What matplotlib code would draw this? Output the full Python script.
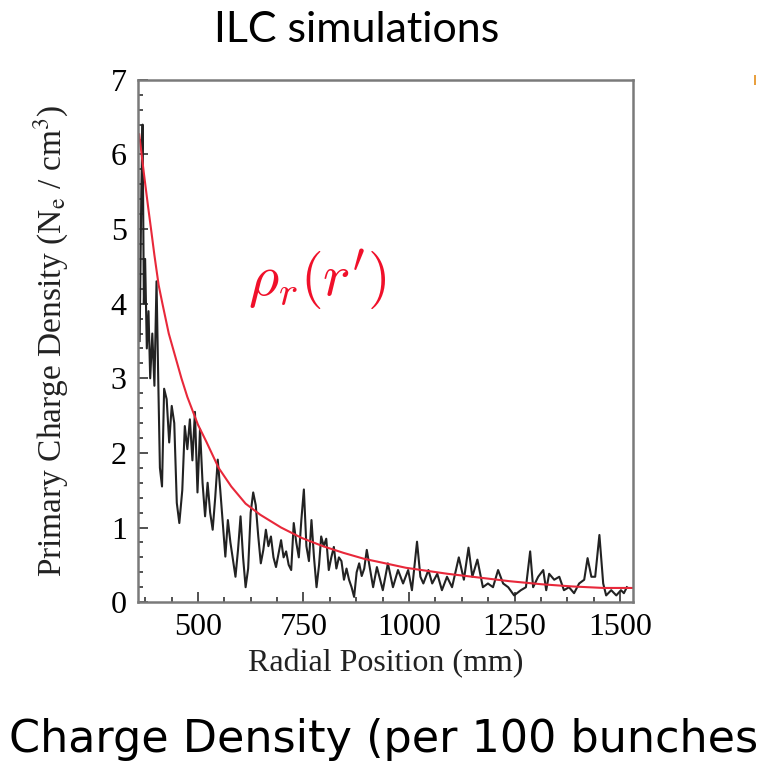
import matplotlib
matplotlib.use('Agg')
import matplotlib.pyplot as plt
from matplotlib.ticker import MultipleLocator
from matplotlib.patches import Rectangle

# black simulated density
r_sim = [362, 366, 369, 372, 375, 379, 383, 387, 392, 397, 402, 406, 410, 415,
         420, 426, 432, 438, 444, 450, 456, 463, 469, 475, 481, 487, 493,
         499, 505, 511, 517, 523, 529, 535, 541, 547, 553, 559, 565, 571,
         577, 583, 589, 595, 601, 607, 613, 619, 625, 631, 637, 643, 649,
         655, 661, 667, 673, 679, 685, 691, 697, 703, 709, 715, 721, 727,
         733, 739, 745, 751, 757, 763, 769, 775, 781, 787, 792, 798, 804,
         810, 816, 822, 828, 834, 840, 846, 852, 858, 864, 870, 876, 882,
         888, 894, 900, 907, 915, 924, 938, 950, 962, 974, 986, 998, 1007,
         1019, 1027, 1034, 1046, 1055, 1067, 1078, 1090, 1102, 1118, 1130,
         1141, 1150, 1162, 1175, 1187, 1199, 1211, 1223, 1235, 1249, 1265,
         1277, 1287, 1294, 1306, 1318, 1325, 1332, 1344, 1356, 1367, 1379,
         1391, 1403, 1415, 1423, 1432, 1441, 1451, 1460, 1467, 1479, 1491,
         1502, 1509, 1516]
rho_sim = [3.5, 5.5, 6.4, 4.0, 4.6, 3.4, 3.9, 3.0, 3.6, 2.9, 4.3, 3.0, 1.8, 1.55,
           2.86, 2.72, 2.14, 2.63, 2.4, 1.33, 1.06, 1.5, 2.36, 2.05, 2.45, 1.9, 2.55,
           1.47, 2.32, 1.6, 1.15, 1.6, 1.2, 0.97, 1.4, 1.91, 1.5, 1.06, 0.61, 1.1,
           0.8, 0.57, 0.34, 0.7, 1.15, 0.6, 0.2, 0.45, 1.2, 1.47, 1.3, 0.88, 0.52,
           0.7, 0.97, 0.75, 0.88, 0.6, 0.47, 0.65, 0.83, 0.6, 0.68, 0.5, 0.43, 1.06,
           0.8, 0.6, 1.1, 1.51, 0.75, 0.55, 1.1, 0.6, 0.2, 0.5, 0.88, 0.75, 0.85,
           0.43, 0.6, 0.74, 0.45, 0.6, 0.55, 0.3, 0.45, 0.3, 0.2, 0.07, 0.4, 0.52,
           0.35, 0.45, 0.7, 0.47, 0.2, 0.47, 0.16, 0.52, 0.2, 0.43, 0.25, 0.43, 0.16,
           0.81, 0.34, 0.25, 0.43, 0.25, 0.38, 0.16, 0.34, 0.2, 0.6, 0.3,
           0.73, 0.34, 0.57, 0.2, 0.25, 0.2, 0.43, 0.25, 0.2, 0.09, 0.16,
           0.2, 0.68, 0.2, 0.34, 0.43, 0.16, 0.38, 0.3, 0.34, 0.16, 0.2,
           0.12, 0.25, 0.3, 0.59, 0.34, 0.34, 0.9, 0.25, 0.09, 0.16, 0.09,
           0.16, 0.12, 0.2]

# red fitted curve rho_r(r')
r_fit = [361, 372, 382, 389, 397, 407, 416, 431, 446, 461, 475, 500, 520,
         549, 579, 613, 648, 697, 746, 796, 845, 894, 944, 993, 1042, 1091,
         1165, 1239, 1313, 1387, 1461, 1530]
rho_fit = [6.27, 5.75, 5.3, 5.0, 4.65, 4.25, 4.0, 3.6, 3.3, 3.0, 2.75, 2.38, 2.15,
           1.8, 1.55, 1.32, 1.17, 1.0, 0.86, 0.75, 0.66, 0.58, 0.52, 0.46, 0.42, 0.38,
           0.33, 0.28, 0.24, 0.21, 0.19, 0.19]

x_ticks = [500, 750, 1000, 1250, 1500]
y_ticks = [0, 1, 2, 3, 4, 5, 6, 7]

plt.rcParams['font.family'] = ['Liberation Serif', 'DejaVu Serif']
plt.rcParams['mathtext.fontset'] = 'stix'

fig = plt.figure(figsize=(7.75, 7.83), dpi=100)
ax = fig.add_axes([0.178, 0.231, 0.639, 0.667])

ax.plot(r_sim, rho_sim, color='#222222', lw=1.5)
ax.plot(r_fit, rho_fit, color='#e8283a', lw=1.5)

ax.set_xlim(358, 1531)
ax.set_ylim(0, 7)
ax.set_xticks(x_ticks)
ax.set_yticks(y_ticks)
ax.xaxis.set_minor_locator(MultipleLocator(62.5))
ax.yaxis.set_minor_locator(MultipleLocator(0.2))
ax.tick_params(which='both', direction='in', top=False, right=False,
               color='#333333', labelsize=23, width=1.2)
ax.tick_params(which='major', length=7, pad=8)
ax.tick_params(which='minor', length=3.5)
for s in ax.spines.values():
    s.set_color('#7a7a7a')
    s.set_linewidth(1.8)

ax.set_xlabel('Radial Position (mm)', fontsize=23, labelpad=5, color='#222222')
ax.set_ylabel(r'Primary Charge Density (N$_\mathrm{e}$ / cm$^3$)', fontsize=24,
              labelpad=29, color='#222222')

ax.text(0.362, 0.617, r"$\rho_r(r')$", transform=ax.transAxes, color='#f0102a',
        fontsize=42, math_fontfamily='cm', ha='center', va='center')

fig.text(0.46, 0.962, 'ILC simulations', family='Lato', fontsize=31,
         ha='center', va='center', color='black')
fig.text(0.012, 0.055, 'Charge Density (per 100 bunches', family='DejaVu Sans',
         fontsize=32, ha='left', va='center', color='black')

# small orange speck at the top right
fig.patches.append(Rectangle((0.973, 0.892), 0.003, 0.012, transform=fig.transFigure,
                             color='#e8a040', lw=0))

fig.savefig('out.png', dpi=100)
